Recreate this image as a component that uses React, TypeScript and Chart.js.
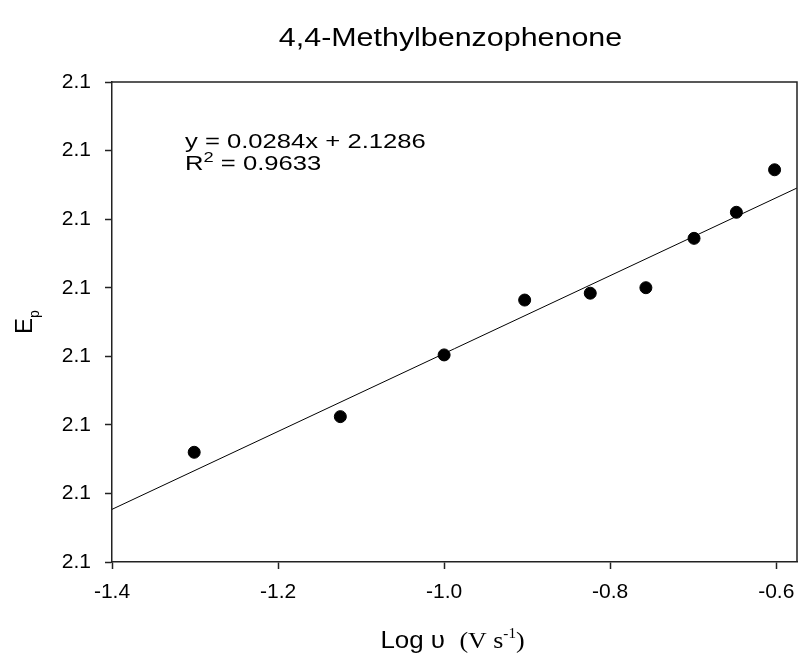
import React, { useEffect, useRef } from "react";
import { Chart, registerables } from "chart.js";

Chart.register(...registerables);

// ---- data ----
const chartTitle = "4,4-Methylbenzophenone";
const logScanRate = [-1.301, -1.125, -1.0, -0.903, -0.824, -0.757, -0.699, -0.648, -0.602];
const peakPotential = [2.093, 2.0956, 2.1001, 2.1041, 2.1046, 2.105, 2.1086, 2.1105, 2.1136];
const fitSlope = 0.0284;
const fitIntercept = 2.1286;
const fitRSquared = 0.9633;
const fitRange = [-1.4, -0.575];
const xTicks = [-1.4, -1.2, -1.0, -0.8, -0.6];
const yTicks = [2.085, 2.09, 2.095, 2.1, 2.105, 2.11, 2.115, 2.12];
const xLabelMain = "Log \u03c5";
const xLabelUnit = "(V s";
const xLabelExp = "-1";
const yLabelMain = "E";
const yLabelSub = "p";

const SANS = "'Liberation Sans', Arial, sans-serif";
const SERIF = "'Liberation Serif', 'Times New Roman', serif";

const textPlugin = {
  id: "annotText",
  afterDraw(chart: any) {
    const ctx = chart.ctx as CanvasRenderingContext2D;
    const a = chart.chartArea;
    ctx.save();
    // frame (top & right)
    ctx.strokeStyle = "#222";
    ctx.lineWidth = 1.5;
    ctx.beginPath();
    ctx.moveTo(a.left, a.top);
    ctx.lineTo(a.right, a.top);
    ctx.lineTo(a.right, a.bottom);
    ctx.stroke();

    ctx.fillStyle = "#000";
    ctx.textBaseline = "alphabetic";

    // title
    ctx.save();
    ctx.font = `26px ${SANS}`;
    ctx.textAlign = "center";
    ctx.translate((a.left + a.right) / 2 - 4, 46);
    ctx.scale(1.17, 1);
    ctx.fillText(chartTitle, 0, 0);
    ctx.restore();

    // equation
    ctx.save();
    ctx.translate(a.left + 73, 0);
    ctx.scale(1.22, 1);
    ctx.textAlign = "left";
    ctx.font = `21px ${SANS}`;
    ctx.fillText(`y = ${fitSlope}x + ${fitIntercept}`, 0, 148);
    ctx.fillText("R", 0, 170);
    const rw = ctx.measureText("R").width;
    ctx.font = `15px ${SANS}`;
    ctx.fillText("2", rw, 162);
    const tw = ctx.measureText("2").width;
    ctx.font = `21px ${SANS}`;
    ctx.fillText(` = ${fitRSquared}`, rw + tw, 170);
    ctx.restore();

    // x-axis title
    ctx.save();
    ctx.textAlign = "left";
    ctx.font = `24px ${SANS}`;
    const w1 = ctx.measureText(xLabelMain + "  ").width;
    ctx.font = `24px ${SERIF}`;
    const w2 = ctx.measureText(xLabelUnit).width;
    ctx.font = `14px ${SERIF}`;
    const w3 = ctx.measureText(xLabelExp).width;
    ctx.font = `24px ${SERIF}`;
    const w4 = ctx.measureText(")").width;
    const total = (w1 + w2 + w3 + w4) * 1.08;
    ctx.translate((a.left + a.right) / 2 - total / 2 - 2, 648);
    ctx.scale(1.08, 1);
    let x = 0;
    ctx.font = `24px ${SANS}`;
    ctx.fillText(xLabelMain, x, 0);
    x += w1;
    ctx.font = `24px ${SERIF}`;
    ctx.fillText(xLabelUnit, x, 0);
    x += w2;
    ctx.font = `14px ${SERIF}`;
    ctx.fillText(xLabelExp, x, -10);
    x += w3;
    ctx.font = `24px ${SERIF}`;
    ctx.fillText(")", x, 0);
    ctx.restore();

    // y-axis title
    ctx.save();
    ctx.translate(32, (a.top + a.bottom) / 2);
    ctx.rotate(-Math.PI / 2);
    ctx.textAlign = "left";
    ctx.font = `24px ${SANS}`;
    const ew = ctx.measureText(yLabelMain).width;
    ctx.font = `14px ${SANS}`;
    const pw = ctx.measureText(yLabelSub).width;
    const sx = -(ew + pw) / 2;
    ctx.font = `24px ${SANS}`;
    ctx.fillText(yLabelMain, sx, 0);
    ctx.font = `14px ${SANS}`;
    ctx.fillText(yLabelSub, sx + ew, 7);
    ctx.restore();

    ctx.restore();
  },
};

export default function App() {
  const ref = useRef<HTMLCanvasElement>(null);
  useEffect(() => {
    if (!ref.current) return;
    const points = logScanRate.map((x, i) => ({ x, y: peakPotential[i] }));
    const fitLine = fitRange.map((x) => ({ x, y: fitSlope * x + fitIntercept }));
    const axisCommon = {
      type: "linear" as const,
      grid: {
        drawOnChartArea: false,
        drawTicks: true,
        tickLength: 7,
        tickWidth: 1.5,
        tickColor: "#222",
        color: "#222",
      },
      border: { display: true, color: "#222", width: 1.5 },
    };
    const zeroPad = (s: any) => {
      s.paddingLeft = 0;
      s.paddingRight = 0;
      s.paddingTop = 0;
      s.paddingBottom = 0;
    };
    const chart = new Chart(ref.current, {
      type: "scatter",
      data: {
        datasets: [
          {
            type: "line",
            data: fitLine,
            borderColor: "#000",
            borderWidth: 1,
            pointRadius: 0,
            fill: false,
            order: 2,
          } as any,
          {
            data: points,
            backgroundColor: "#000",
            borderColor: "#000",
            pointRadius: 6,
            pointHoverRadius: 6,
            order: 1,
          },
        ],
      },
      options: {
        responsive: false,
        animation: false,
        layout: { autoPadding: false, padding: { top: 82, right: 3, left: 0, bottom: 0 } },
        plugins: {
          legend: { display: false },
          tooltip: { enabled: false },
          title: { display: false },
        },
        scales: {
          x: {
            ...axisCommon,
            min: fitRange[0],
            max: fitRange[1],
            afterBuildTicks: (s: any) => {
              s.ticks = xTicks.map((v) => ({ value: v }));
            },
            afterFit: (s: any) => {
              s.height = 91;
              zeroPad(s);
            },
            ticks: {
              color: "#000",
              font: { size: 21, family: SANS },
              padding: 11,
              maxRotation: 0,
              autoSkip: false,
              callback: (v: any) => Number(v).toFixed(1),
            },
          },
          y: {
            ...axisCommon,
            min: yTicks[0],
            max: yTicks[yTicks.length - 1],
            afterBuildTicks: (s: any) => {
              s.ticks = yTicks.map((v) => ({ value: v }));
            },
            afterFit: (s: any) => {
              s.width = 112;
              zeroPad(s);
            },
            ticks: {
              color: "#000",
              font: { size: 21, family: SANS },
              padding: 14,
              autoSkip: false,
              callback: (v: any) => Number(v).toFixed(1),
            },
          },
        },
      } as any,
      plugins: [textPlugin],
    });
    return () => chart.destroy();
  }, []);
  return (
    <div style={{ position: "absolute", left: 0, top: 0, width: 800, height: 653, background: "#fff" }}>
      <canvas ref={ref} width={800} height={653} style={{ display: "block" }} />
    </div>
  );
}
